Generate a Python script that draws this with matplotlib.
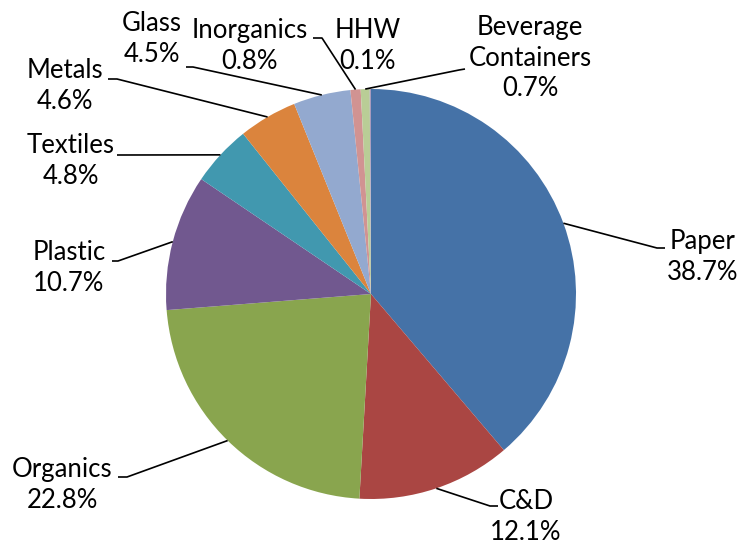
import numpy as np
import matplotlib
matplotlib.use("Agg")
import matplotlib.pyplot as plt

# waste composition, clockwise from 12 o'clock
categories = ["Paper", "C&D", "Organics", "Plastic", "Textiles", "Metals",
              "Glass", "Inorganics", "Beverage\nContainers", "HHW"]
shares = [38.7, 12.1, 22.8, 10.7, 4.8, 4.6, 4.5, 0.8, 0.7, 0.1]
colors = ["#4572A7", "#AA4643", "#89A54E", "#71588F", "#4198AF", "#DB843D",
          "#93A9CF", "#D19392", "#B9CD96", "#A99BBD"]

W, H = 742, 548

# label centre, leader start at label, elbow (image pixels, y down)
label_pos = {
    "Paper": ((703, 257), (665, 248), (657, 248)),
    "C&D": ((526, 517), (498, 506), (490, 506)),
    "Organics": ((62, 485), (118, 477), (127, 477)),
    "Plastic": ((69, 268), (112, 261), (118, 261)),
    "Textiles": ((71, 161), (117, 155), (124, 155)),
    "Metals": ((65, 86), (108, 79), (117, 79)),
    "Glass": ((152, 39), (186, 67), (193, 67)),
    "Inorganics": ((250, 46), (313, 38), (322, 38)),
    "Beverage\nContainers": ((530, 58), (465, 69), (459, 70)),
    "HHW": ((368, 46), None, None),
}

plt.rcParams['font.family'] = ['Lato', 'DejaVu Sans']

fig = plt.figure(figsize=(W / 100, H / 100), dpi=100)
ax = fig.add_axes([0, 0, 1, 1])

cx, cy, r = 371, H - 294, 205
wedges, _ = ax.pie(shares, colors=colors, startangle=90, counterclock=False,
                   center=(cx, cy), radius=r, wedgeprops=dict(linewidth=0))

for w, name, val in zip(wedges, categories, shares):
    (tx, ty), start, elbow = label_pos[name]
    ax.text(tx, H - ty, "%s\n%.1f%%" % (name, val), ha="center", va="center",
            fontsize=18.5, linespacing=1.27, color="black")
    if start is None:
        continue
    mid = np.deg2rad((w.theta1 + w.theta2) / 2)
    ex, ey = cx + r * np.cos(mid), cy + r * np.sin(mid)
    ax.plot([start[0], elbow[0], ex], [H - start[1], H - elbow[1], ey],
            color="black", lw=1.2, solid_capstyle="butt")

ax.set_xlim(0, W)
ax.set_ylim(0, H)
ax.set_aspect("equal")
ax.axis("off")

fig.savefig("out.png", dpi=100, facecolor="white")
